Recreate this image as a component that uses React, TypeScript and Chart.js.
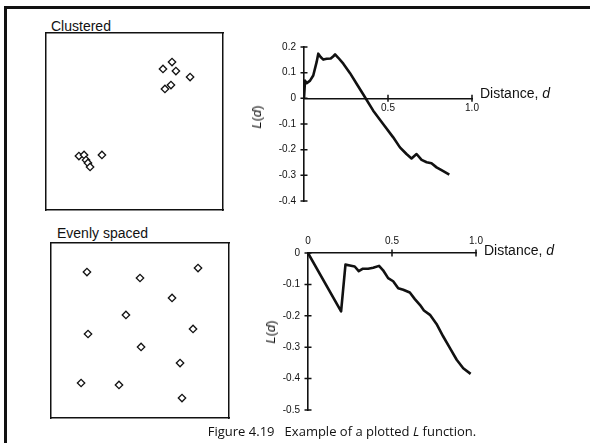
import React, { useEffect, useRef } from 'react';
import { Chart, registerables } from 'chart.js';

Chart.register(...registerables);

// ---------- data ----------
const clusteredPtX = [0.661, 0.712, 0.734, 0.814, 0.672, 0.706, 0.186, 0.215, 0.226, 0.237, 0.249, 0.316];
const clusteredPtY = [0.797, 0.836, 0.785, 0.751, 0.684, 0.706, 0.305, 0.311, 0.282, 0.266, 0.243, 0.311];

const evenPtX = [0.202, 0.5, 0.826, 0.68, 0.421, 0.208, 0.798, 0.506, 0.725, 0.169, 0.382, 0.736];
const evenPtY = [0.834, 0.8, 0.857, 0.686, 0.589, 0.48, 0.509, 0.406, 0.314, 0.2, 0.189, 0.114];

const clusteredD = [0, 0.006, 0.016, 0.036, 0.055, 0.075, 0.085, 0.099, 0.115, 0.135, 0.159, 0.175, 0.185, 0.204, 0.234, 0.274, 0.314, 0.353, 0.412, 0.471, 0.531, 0.571, 0.61, 0.64, 0.67, 0.7, 0.73, 0.759, 0.789, 0.829, 0.865];
const clusteredL = [0, 0.069, 0.059, 0.069, 0.089, 0.141, 0.174, 0.161, 0.151, 0.154, 0.155, 0.164, 0.171, 0.158, 0.135, 0.098, 0.056, 0.015, -0.048, -0.1, -0.152, -0.191, -0.217, -0.234, -0.217, -0.24, -0.249, -0.253, -0.269, -0.284, -0.297];

const evenD = [0, 0.197, 0.223, 0.249, 0.278, 0.302, 0.327, 0.358, 0.388, 0.423, 0.447, 0.477, 0.507, 0.537, 0.567, 0.606, 0.636, 0.666, 0.69, 0.726, 0.765, 0.805, 0.845, 0.885, 0.924, 0.968];
const evenL = [0, -0.186, -0.037, -0.04, -0.043, -0.058, -0.05, -0.05, -0.047, -0.041, -0.055, -0.08, -0.09, -0.112, -0.117, -0.126, -0.147, -0.165, -0.183, -0.197, -0.226, -0.266, -0.303, -0.34, -0.367, -0.385];

const topXTicks = [0.5, 1.0];
const topYTicks = [0.2, 0.1, 0, -0.1, -0.2, -0.3, -0.4];
const botXTicks = [0, 0.5, 1.0];
const botYTicks = [0, -0.1, -0.2, -0.3, -0.4, -0.5];

// ---------- helpers ----------
const FONT = "'Liberation Sans', Arial, sans-serif";
const INK = '#111';

const fmt = (v: number) => (Math.abs(v) < 1e-9 ? '0' : Number(v).toFixed(1));

const crossTicks = {
  id: 'crossTicks',
  afterDraw(chart: any, _args: any, opts: any) {
    const len = (opts && opts.len) || 3.5;
    const xs = chart.scales.x;
    const ys = chart.scales.y;
    const x0 = xs.getPixelForValue(0);
    const y0 = ys.getPixelForValue(0);
    const ctx = chart.ctx;
    ctx.save();
    ctx.strokeStyle = INK;
    ctx.lineWidth = 1.5;
    ctx.beginPath();
    ys.ticks.forEach((t: any) => {
      const py = ys.getPixelForValue(t.value);
      ctx.moveTo(x0 - len, py);
      ctx.lineTo(x0 + len, py);
    });
    xs.ticks.forEach((t: any) => {
      if (Math.abs(t.value) < 1e-9) return;
      const px = xs.getPixelForValue(t.value);
      ctx.moveTo(px, y0 - len);
      ctx.lineTo(px, y0 + len);
    });
    ctx.stroke();
    ctx.restore();
  },
};

function ChartBox({ left, top, width, height, make }: any) {
  const ref = useRef<HTMLCanvasElement | null>(null);
  useEffect(() => {
    const chart = new Chart(ref.current as HTMLCanvasElement, make());
    return () => chart.destroy();
  }, []);
  return (
    <div style={{ position: 'absolute', left, top, width, height }}>
      <canvas ref={ref} width={width} height={height} style={{ width, height, display: 'block' }} />
    </div>
  );
}

const boxScale = (position: string) => ({
  type: 'linear',
  position,
  min: 0,
  max: 1,
  grid: { display: false, drawTicks: false },
  ticks: { display: false },
  border: { display: true, color: INK, width: 1.5 },
});

function scatterConfig(xs: number[], ys: number[], padding: any) {
  return {
    type: 'scatter',
    data: {
      datasets: [
        {
          data: xs.map((x, i) => ({ x, y: ys[i] })),
          pointStyle: 'rectRot',
          pointRadius: 3.7,
          pointBorderWidth: 1.3,
          borderColor: INK,
          backgroundColor: '#fff',
        },
      ],
    },
    options: {
      animation: false,
      responsive: false,
      events: [],
      layout: { padding },
      plugins: { legend: { display: false }, tooltip: { enabled: false } },
      scales: {
        x: boxScale('bottom'),
        y: boxScale('left'),
        x2: boxScale('top'),
        y2: boxScale('right'),
      },
    },
  };
}

function lineConfig(d: number[], l: number[], opts: any) {
  const xScale: any = {
    type: 'linear',
    min: 0,
    max: 1,
    position: opts.xPosition,
    grid: { display: false, drawTicks: false },
    border: { display: true, color: INK, width: 1.6 },
    afterBuildTicks: (s: any) => {
      s.ticks = opts.xTicks.map((v: number) => ({ value: v }));
    },
    ticks: {
      autoSkip: false,
      maxRotation: 0,
      padding: opts.xPad,
      color: INK,
      font: { family: FONT, size: 10 },
      callback: (v: any) => fmt(v),
    },
  };
  if (opts.xHeight) {
    xScale.afterFit = (s: any) => {
      s.height = opts.xHeight;
    };
  }
  return {
    type: 'scatter',
    data: {
      datasets: [
        {
          data: d.map((x, i) => ({ x, y: l[i] })),
          showLine: true,
          borderColor: INK,
          borderWidth: 2.6,
          pointRadius: 0,
          tension: 0,
          fill: false,
          borderJoinStyle: 'round',
        },
      ],
    },
    options: {
      animation: false,
      responsive: false,
      events: [],
      layout: { padding: opts.padding },
      plugins: { legend: { display: false }, tooltip: { enabled: false }, crossTicks: { len: 3.5 } },
      scales: {
        x: xScale,
        y: {
          type: 'linear',
          min: opts.yMin,
          max: opts.yMax,
          position: 'left',
          grid: { display: false, drawTicks: false },
          border: { display: true, color: INK, width: 1.6 },
          afterBuildTicks: (s: any) => {
            s.ticks = opts.yTicks.map((v: number) => ({ value: v }));
          },
          afterFit: (s: any) => {
            s.width = 40;
          },
          ticks: {
            autoSkip: false,
            padding: 8,
            color: INK,
            font: { family: FONT, size: 10 },
            callback: (v: any) => fmt(v),
          },
        },
      },
    },
    plugins: [crossTicks],
  };
}

const labelStyle: any = {
  position: 'absolute',
  fontFamily: FONT,
  fontSize: 14,
  lineHeight: '16px',
  color: INK,
  whiteSpace: 'nowrap',
};

function LTitle({ cx, cy }: any) {
  return (
    <div
      style={{
        ...labelStyle,
        fontSize: 13,
        left: cx,
        top: cy,
        transform: 'translate(-50%, -50%) rotate(-90deg)',
      }}
    >
      <i>L</i>(<i>d</i>)
    </div>
  );
}

export default function App() {
  return (
    <div
      style={{
        position: 'absolute',
        left: 0,
        top: 0,
        width: 590,
        height: 443,
        overflow: 'hidden',
        background: '#fff',
      }}
    >
      {/* frame */}
      <div style={{ position: 'absolute', left: 4, top: 6, width: 586, height: 3, background: INK }} />
      <div style={{ position: 'absolute', left: 4, top: 6, width: 3, height: 437, background: INK }} />

      {/* Clustered */}
      <div style={{ ...labelStyle, left: 51, top: 18 }}>Clustered</div>
      <ChartBox
        left={40}
        top={27}
        width={190}
        height={190}
        make={() => scatterConfig(clusteredPtX, clusteredPtY, { left: 6, right: 7, top: 6, bottom: 7 })}
      />
      <ChartBox
        left={250}
        top={30}
        width={330}
        height={190}
        make={() =>
          lineConfig(clusteredD, clusteredL, {
            padding: { left: 14, right: 108, top: 17, bottom: 19 },
            xPosition: { y: 0 },
            xTicks: topXTicks,
            yTicks: topYTicks,
            yMin: -0.4,
            yMax: 0.2,
            xPad: 4,
          })
        }
      />
      <LTitle cx={257} cy={117} />
      <div style={{ ...labelStyle, left: 480, top: 85 }}>
        Distance, <i>d</i>
      </div>

      {/* Evenly spaced */}
      <div style={{ ...labelStyle, left: 57, top: 225 }}>Evenly spaced</div>
      <ChartBox
        left={45}
        top={237}
        width={190}
        height={188}
        make={() => scatterConfig(evenPtX, evenPtY, { left: 6, right: 6, top: 6, bottom: 7 })}
      />
      <ChartBox
        left={250}
        top={225}
        width={330}
        height={200}
        make={() =>
          lineConfig(evenD, evenL, {
            padding: { left: 18, right: 104, top: 8, bottom: 15 },
            xPosition: 'top',
            xHeight: 20,
            xTicks: botXTicks,
            yTicks: botYTicks,
            yMin: -0.5,
            yMax: 0,
            xPad: 6,
          })
        }
      />
      <LTitle cx={271} cy={332} />
      <div style={{ ...labelStyle, left: 484, top: 242 }}>
        Distance, <i>d</i>
      </div>

      {/* caption */}
      <div
        style={{
          position: 'absolute',
          left: 142,
          width: 400,
          top: 423,
          textAlign: 'center',
          fontFamily: "'Open Sans', 'Noto Sans', sans-serif",
          fontSize: 13,
          lineHeight: '17px',
          color: INK,
          whiteSpace: 'pre',
        }}
      >
        {'Figure 4.19   Example of a plotted '}
        <i>L</i>
        {' function.'}
      </div>
    </div>
  );
}
